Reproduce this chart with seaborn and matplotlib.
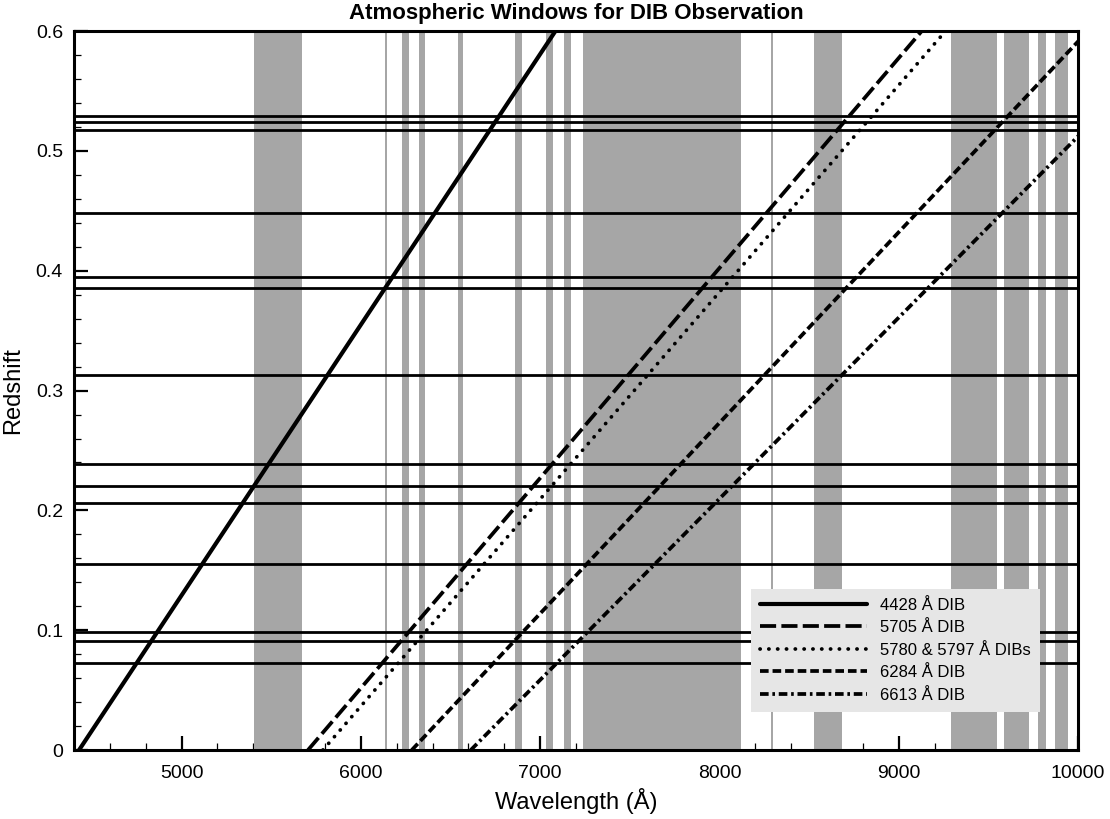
import matplotlib
matplotlib.use("Agg")
import matplotlib.pyplot as plt
import seaborn as sns
import pandas as pd
from matplotlib.ticker import MultipleLocator, FuncFormatter

# ---- data ----
band_starts = [5405, 6135, 6231, 6324, 6543, 6861, 7034, 7133, 7241, 8289, 8529, 9294, 9589, 9774, 9869]
band_ends   = [5670, 6145, 6267, 6359, 6570, 6899, 7074, 7170, 8120, 8301, 8681, 9550, 9725, 9823, 9943]
redshifts = [0.0728, 0.0914, 0.0989, 0.1553, 0.2061, 0.2203, 0.2390, 0.3133,
             0.3860, 0.3950, 0.4486, 0.5178, 0.5242, 0.5292]
dib_wavelengths = [4428, 5705, 5788, 6284, 6613]
dib_labels = ["4428 Å DIB", "5705 Å DIB", "5780 & 5797 Å DIBs", "6284 Å DIB", "6613 Å DIB"]
z_range = [0.0, 0.6]
x_limits = [4400, 10000]

sns.set_theme(style="white")
plt.rcParams['font.family'] = ['Liberation Sans', 'DejaVu Sans']
plt.rcParams['text.color'] = 'black'
plt.rcParams['axes.labelcolor'] = 'black'
plt.rcParams['xtick.color'] = 'black'
plt.rcParams['ytick.color'] = 'black'

fig = plt.figure(figsize=(11.1, 8.19), dpi=100)
ax = fig.add_axes([0.0667, 0.0842, 0.9045, 0.8778])

# atmospheric absorption bands
for s, e in zip(band_starts, band_ends):
    ax.axvspan(s, e, color='#a6a6a6', lw=0, zorder=1)

# redshift lines
for z in redshifts:
    ax.axhline(z, color='black', lw=2.0, zorder=2)

styles = [
    dict(linestyle='-', lw=3.0),
    dict(linestyle=(0, (4.3, 1.4)), lw=2.7),
    dict(linestyle=(0, (0.05, 2.3)), dash_capstyle='round', lw=2.7),
    dict(linestyle=(0, (2.3, 1.05)), lw=2.7),
    dict(linestyle=(0, (2.3, 1.0, 0.7, 1.0)), lw=2.7),
]

for lam, lab, st in zip(dib_wavelengths, dib_labels, styles):
    df = pd.DataFrame({'z': z_range})
    df['wavelength'] = lam * (1 + df['z'])
    sns.lineplot(data=df, x='wavelength', y='z', color='black',
                 ax=ax, label=lab, sort=False, zorder=3, **st)

ax.set_xlim(*x_limits)
ax.set_ylim(*z_range)

ax.xaxis.set_major_locator(MultipleLocator(1000))
ax.xaxis.set_minor_locator(MultipleLocator(200))
ax.yaxis.set_major_locator(MultipleLocator(0.1))
ax.yaxis.set_minor_locator(MultipleLocator(0.02))
ax.yaxis.set_major_formatter(FuncFormatter(lambda v, p: "0" if abs(v) < 1e-9 else f"{v:.1f}"))
ax.xaxis.set_major_formatter(FuncFormatter(lambda v, p: "" if v < 4999 else f"{v:.0f}"))

ax.tick_params(which='both', direction='in', bottom=True, left=True, top=False, right=False,
               colors='black', labelsize=14)
ax.tick_params(which='major', length=10, width=1.6, pad=8)
ax.tick_params(axis='x', which='major', pad=11)
ax.tick_params(which='minor', length=5, width=0.9)

for sp in ax.spines.values():
    sp.set_color('black')
    sp.set_linewidth(2.2)
    sp.set_zorder(5)

ax.set_xlabel("Wavelength (Å)", fontsize=17, labelpad=4)
ax.set_ylabel("Redshift", fontsize=17, labelpad=8)
ax.set_title("Atmospheric Windows for DIB Observation", fontsize=16, fontweight='bold', pad=9)

leg = ax.legend(loc='lower right', bbox_to_anchor=(0.962, 0.053), borderaxespad=0,
                fontsize=12, handlelength=6.4, labelspacing=0.45, handletextpad=0.78,
                fancybox=False, framealpha=1, borderpad=0.55)
leg.get_frame().set_facecolor('#e6e6e6')
leg.get_frame().set_edgecolor('none')
leg.set_zorder(6)

fig.savefig("out.png", dpi=100)
